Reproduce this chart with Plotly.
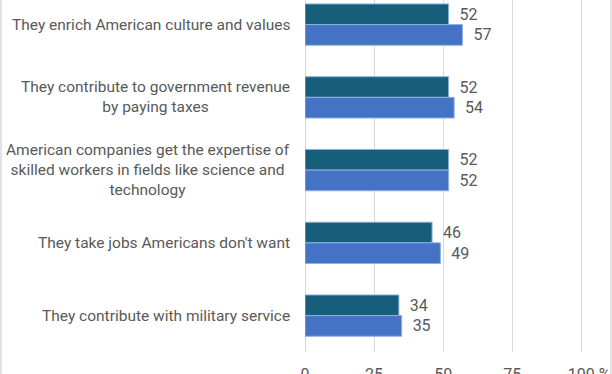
import plotly.graph_objects as go

categories = [
    "They enrich American culture and values",
    "They contribute to government revenue<br>by paying taxes",
    "American companies get the expertise of<br>skilled workers in fields like science and<br>technology",
    "They take jobs Americans don't want",
    "They contribute with military service",
]
series_a = [52, 52, 52, 46, 34]
series_b = [57, 54, 52, 49, 35]
tick_vals = [0, 25, 50, 75, 100]
tick_text = ["0", "25", "50", "75", "\u00a0\u00a0\u00a0\u00a0100 %"]

W, H = 612, 374
ML, MR, MT, MB = 305, 28, 0, 22
TEXT = "#595959"
FONT = "Roboto"

fig = go.Figure()
fig.add_trace(go.Bar(
    y=categories, x=series_a, orientation="h", name="Series A",
    marker=dict(color="#175E7A", line=dict(color="#8FB0E0", width=1)),
    text=series_a, texttemplate="\u00a0\u00a0%{x}", textposition="outside",
    textfont=dict(family=FONT, size=16, color=TEXT), cliponaxis=False,
))
fig.add_trace(go.Bar(
    y=categories, x=series_b, orientation="h", name="Series B",
    marker=dict(color="#4472C4", line=dict(color="#8FB0E0", width=1)),
    text=series_b, texttemplate="\u00a0\u00a0%{x}", textposition="outside",
    textfont=dict(family=FONT, size=16, color=TEXT), cliponaxis=False,
))

for c in categories:
    fig.add_annotation(
        x=0, xref="paper", y=c, yref="y", xshift=-13,
        text=c, showarrow=False, xanchor="right", align="center",
        font=dict(family=FONT, size=15.5, color=TEXT),
    )

plot_w = W - ML - MR
for px in (1, W - 1):
    xp = (px - ML) / plot_w
    fig.add_shape(type="line", xref="paper", yref="paper",
                  x0=xp, x1=xp, y0=-MB / (H - MT - MB), y1=1,
                  line=dict(color="#D9D9D9", width=1.5))

fig.update_layout(
    width=W, height=H,
    margin=dict(l=ML, r=MR, t=MT, b=MB, autoexpand=False),
    paper_bgcolor="white", plot_bgcolor="white",
    barmode="group", bargap=0.432, bargroupgap=0,
    showlegend=False,
    font=dict(family=FONT, size=15, color=TEXT),
    xaxis=dict(range=[0, 101], tickvals=tick_vals, ticktext=tick_text,
               showgrid=True, gridcolor="#D9D9D9", gridwidth=1,
               zeroline=True, zerolinecolor="#D9D9D9", zerolinewidth=1,
               ticks="outside", ticklen=8, tickcolor="rgba(0,0,0,0)",
               tickfont=dict(family=FONT, size=16, color=TEXT), showline=False,
               automargin=False),
    yaxis=dict(categoryorder="array", categoryarray=categories,
               range=[4.5, -0.338], showticklabels=False, showgrid=False,
               zeroline=False, showline=False, automargin=False),
)

fig.write_html("out.html",
               config={"displayModeBar": False},
               post_script="document.body.style.margin='0';document.body.style.overflow='hidden';")
